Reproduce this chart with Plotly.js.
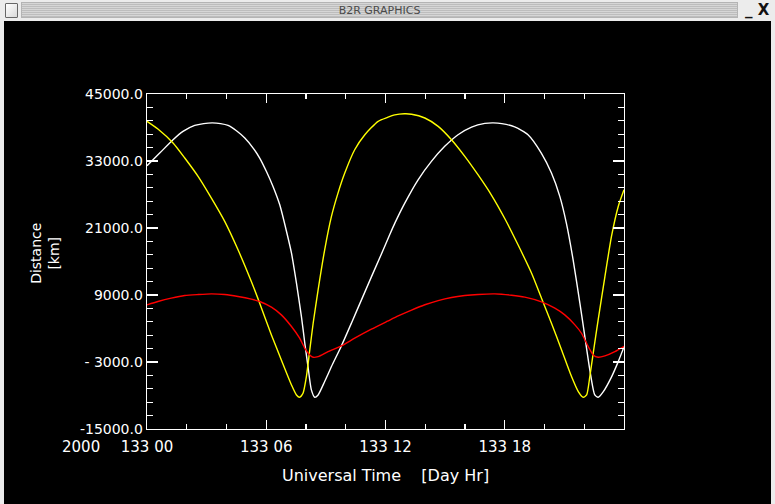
<!DOCTYPE html>
<html>
<head>
<meta charset="utf-8">
<script src="https://cdn.plot.ly/plotly-3.0.1.min.js"></script>
<style>
  html, body { margin: 0; padding: 0; }
  body {
    width: 775px; height: 504px; overflow: hidden;
    background: #ececec; position: relative;
    font-family: "DejaVu Sans", sans-serif;
  }
  #icon {
    position: absolute; left: 5px; top: 3px; width: 11px; height: 13px;
    border: 1px solid #666; border-radius: 1px;
    background: linear-gradient(135deg, #ffffff 0%, #d8d8d8 100%);
  }
  #bar {
    position: absolute; left: 21px; top: 2px; width: 717px; height: 16px;
    border: 1px solid #b4b4b4; box-sizing: border-box;
    background: repeating-linear-gradient(to bottom, #d6d6d6 0px, #d6d6d6 1px, #bdbdbd 1px, #bdbdbd 2px);
    color: #4a4a4a; font-size: 11px; line-height: 15px; text-align: center;
  }
  #btns {
    position: absolute; left: 742px; top: 0px; width: 32px; height: 20px;
    font-size: 15px; font-weight: bold; color: #111; line-height: 20px;
  }
  #scoreBoard {
    position: absolute; left: 4px; top: 21px; width: 767px; height: 483px;
    background: #000;
  }
</style>
</head>
<body>
<div id="icon"></div>
<div id="bar">B2R GRAPHICS</div>
<div id="btns">&#8201;_&nbsp;X</div>
<div id="scoreBoard"></div>
<script>
// Distances, hours after 133 00 UT on day 133 of 2000

const whiteHours = [0, 0.64, 1.31, 1.81, 2.40, 2.85, 3.28, 3.70, 4.08, 4.50, 4.92, 5.34, 5.67, 6.01,
  6.34, 6.68, 7.02, 7.27, 7.52, 7.77, 7.94, 8.10, 8.27, 8.44, 8.61, 8.94, 9.28, 9.78, 10.29,
  10.79, 11.29, 11.80, 12.21, 12.47, 12.97, 13.64, 14.31, 14.98, 15.65, 16.33, 17.0, 17.42,
  17.85, 18.5, 19.17, 19.84, 20.35, 20.77, 21.1, 21.44, 21.78, 22.03, 22.28, 22.53, 22.7,
  22.96, 23.38, 23.71, 24.0];
const whiteKm = [32150, 34420, 36810, 38300, 39370, 39700, 39820, 39700, 39370, 38420, 37110, 35320,
  33530, 31120, 28440, 25150, 20370, 16490, 11120, 5140, 360, -3820, -8000, -9320, -8900,
  -6500, -3820, -120, 4000, 8130, 12250, 16380, 19780, 21870, 25460, 29640, 32930, 35620,
  37710, 39080, 39730, 39820, 39700, 39100, 37710, 34420, 30840, 26660, 21870, 15300, 7530,
  1550, -4420, -8900, -9320, -8300, -5610, -2930, -300];

const yellowHours = [0, 0.55, 1.31, 1.9, 2.57, 3.24, 3.91, 4.58, 5.25, 5.67, 6.26, 6.76, 7.27, 7.52,
  7.68, 7.85, 8.02, 8.19, 8.36, 8.61, 8.94, 9.28, 9.61, 9.95, 10.45, 10.96, 11.63, 12.1,
  12.47, 12.95, 13.31, 13.98, 14.65, 15.32, 15.99, 16.66, 17.33, 18.0, 18.68, 19.35, 19.85,
  20.35, 20.86, 21.36, 21.7, 21.95, 22.12, 22.28, 22.45, 22.7, 23.04, 23.37, 23.71, 24.0];
const yellowKm = [40100, 38725, 36215, 33530, 30240, 26350, 22180, 17090, 11410, 7530, 1850, -2630,
  -7110, -8900, -9320, -8600, -5610, -840, 3940, 9920, 17090, 23070, 27250, 30840, 35020,
  37710, 40100, 40800, 41250, 41450, 41380, 40700, 39200, 36810, 33830, 30500, 26900, 22700,
  17900, 12900, 8430, 3940, -840, -5610, -8300, -9320, -8900, -5610, -1440, 4540, 12310,
  19480, 24860, 27850];

const redHours = [0, 0.55, 1.22, 1.9, 2.57, 3.24, 3.91, 4.58, 5.25, 5.67, 6.26, 6.76, 7.27, 7.68,
  7.94, 8.19, 8.36, 8.61, 9.11, 9.78, 10.45, 11.29, 12.1, 12.64, 13.31, 13.98, 14.65, 15.32,
  15.99, 16.66, 17.5, 18.34, 19.01, 19.85, 20.52, 21.02, 21.53, 21.86, 22.2, 22.45, 22.7,
  23.04, 23.54, 24.0];
const redKm = [7230, 7830, 8430, 8900, 9080, 9200, 9080, 8730, 8250, 7830, 6820, 5440, 3350, 1260,
  -540, -1730, -2150, -2030, -1140, -120, 1260, 2870, 4300, 5250, 6300, 7250, 8000, 8550,
  8900, 9100, 9200, 8960, 8610, 7770, 6640, 5440, 3650, 2150, -240, -1730, -2150, -1910,
  -1140, -200];

const xTickVals = [0, 6, 12, 18];
const xTickText = ["133 00", "133 06", "133 12", "133 18"];
const yTickVals = [-15000, -3000, 9000, 21000, 33000, 45000];
const yTickText = ["-15000.0", "- 3000.0", "9000.0", "21000.0", "33000.0", "45000.0"];

const font = { family: "DejaVu Sans, sans-serif", size: 15, color: "#ffffff" };
const yFont = { family: font.family, size: 14, color: "#ffffff" };

function curve(x, y, color) {
  return {
    x: x,
    y: y,
    mode: "lines",
    hoverinfo: "none",
    line: { shape: "spline", smoothing: 0.6, width: 1.4, color: color },
    showlegend: false
  };
}

const traces = [
  curve(whiteHours, whiteKm, "#ffffff"),
  curve(yellowHours, yellowKm, "#ffff00"),
  curve(redHours, redKm, "#ff0000")
];

const axisCommon = {
  showgrid: false,
  zeroline: false,
  showline: true,
  linecolor: "#ffffff",
  linewidth: 1.3,
  mirror: "ticks",
  ticks: "inside",
  tickcolor: "#ffffff",
  tickwidth: 1.3,
  tickfont: font,
  fixedrange: true
};

const layout = {
  width: 767,
  height: 483,
  margin: { l: 143, r: 147, t: 73, b: 75, pad: 0 },
  paper_bgcolor: "#000000",
  plot_bgcolor: "#000000",
  font: font,
  xaxis: Object.assign({}, axisCommon, {
    range: [0, 24],
    tickmode: "array",
    tickvals: xTickVals,
    ticktext: xTickText,
    ticklen: 9,
    ticklabelstandoff: 4,
    minor: { dtick: 2, tick0: 0, ticks: "inside", ticklen: 5, tickcolor: "#ffffff", tickwidth: 1.3 }
  }),
  yaxis: Object.assign({}, axisCommon, {
    range: [-15000, 45000],
    tickmode: "array",
    tickvals: yTickVals,
    ticktext: yTickText,
    tickfont: yFont,
    ticklen: 11,
    minor: { dtick: 2400, tick0: -15000, ticks: "inside", ticklen: 6, tickcolor: "#ffffff", tickwidth: 1.3 }
  }),
  annotations: [
    {
      xref: "paper", yref: "paper", x: -0.139, y: -0.054,
      text: "2000", showarrow: false, font: font, borderpad: 0,
      xanchor: "center", yanchor: "middle"
    },
    {
      xref: "paper", yref: "paper", x: -0.213, y: 0.524,
      text: "Distance<br>[km]", showarrow: false, textangle: -90,
      font: yFont,
      xanchor: "center", yanchor: "middle"
    },
    {
      xref: "paper", yref: "paper", x: 0.5, y: -0.14,
      text: "Universal Time\u00a0\u00a0\u00a0\u00a0[Day Hr]", showarrow: false,
      font: { family: font.family, size: 16, color: "#ffffff" },
      xanchor: "center", yanchor: "middle"
    }
  ]
};

Plotly.newPlot("scoreBoard", traces, layout, { displayModeBar: false, staticPlot: true });
</script>
</body>
</html>
